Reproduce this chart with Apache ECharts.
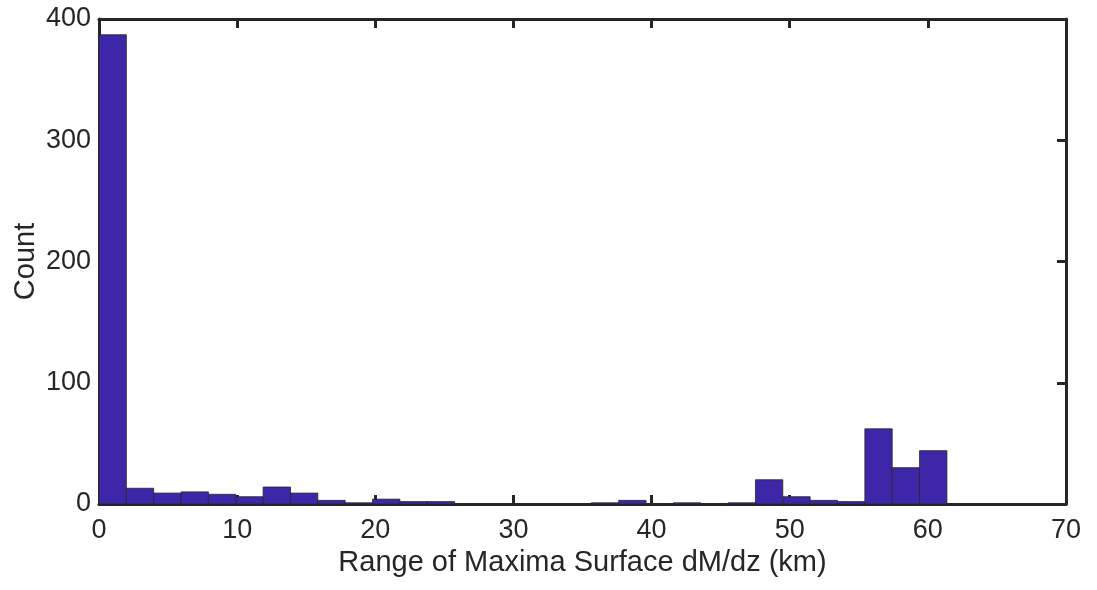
<!DOCTYPE html>
<html><head><meta charset="utf-8">
<script src="https://cdn.jsdelivr.net/npm/echarts@6/dist/echarts.min.js"></script>
<style>html,body{margin:0;padding:0;background:#fff}#c{width:1097px;height:590px}</style>
</head><body><div id="c"></div>
<script>
// Histogram bin edges (km) and counts per bin
const binEdges = [0, 1.98, 3.96, 5.94, 7.92, 9.9, 11.88, 13.86, 15.84, 17.82, 19.8, 21.78, 23.76, 25.74, 27.72, 29.7, 31.68, 33.66, 35.64, 37.62, 39.6, 41.58, 43.56, 45.54, 47.52, 49.5, 51.48, 53.46, 55.44, 57.42, 59.4, 61.38];
const counts = [387, 13, 9, 10, 8, 6, 14, 9, 3, 1, 4, 2, 2, 0, 0, 0, 0, 0, 1, 3, 0, 1, 0, 1, 20, 6, 3, 2, 62, 30, 44];
const xTicks = [0, 10, 20, 30, 40, 50, 60, 70];
const yTicks = [0, 100, 200, 300, 400];
const xLabel = 'Range of Maxima Surface dM/dz (km)';
const yLabel = 'Count';

const data = counts.map((c, i) => [binEdges[i], binEdges[i + 1], c]);
const font = 'Liberation Sans, Arial, Helvetica, sans-serif';
const axisCol = '#262626';

const chart = echarts.init(document.getElementById('c'), null, {renderer: 'canvas'});
const baseX = {
  type: 'value', min: xTicks[0], max: xTicks[xTicks.length - 1], interval: 10,
  splitLine: {show: false},
  axisLine: {show: true, onZero: false, lineStyle: {color: axisCol, width: 3}},
  axisTick: {show: true, inside: true, length: 9, lineStyle: {color: axisCol, width: 3}}
};
const baseY = {
  type: 'value', min: yTicks[0], max: yTicks[yTicks.length - 1], interval: 100,
  splitLine: {show: false},
  axisLine: {show: true, onZero: false, lineStyle: {color: axisCol, width: 3}},
  axisTick: {show: true, inside: true, length: 9, lineStyle: {color: axisCol, width: 3}}
};
chart.setOption({
  animation: false,
  grid: {left: 99, top: 19, right: 31, bottom: 86, containLabel: false, outerBoundsMode: 'none'},
  xAxis: [
    Object.assign({}, baseX, {
      position: 'bottom',
      name: xLabel, nameLocation: 'middle', nameGap: 44, nameMoveOverlap: false,
      nameTextStyle: {fontFamily: font, fontSize: 29, color: axisCol},
      axisLabel: {fontFamily: font, fontSize: 27, color: axisCol, margin: 13}
    }),
    Object.assign({}, baseX, {position: 'top', axisLabel: {show: false}})
  ],
  yAxis: [
    Object.assign({}, baseY, {
      position: 'left',
      name: yLabel, nameLocation: 'middle', nameGap: 59, nameMoveOverlap: false,
      nameTextStyle: {fontFamily: font, fontSize: 29, color: axisCol},
      axisLabel: {fontFamily: font, fontSize: 27, color: axisCol, margin: 8}
    }),
    Object.assign({}, baseY, {position: 'right', axisLabel: {show: false}})
  ],
  series: [{
    type: 'custom',
    xAxisIndex: 0, yAxisIndex: 0,
    data: data,
    renderItem: function (params, api) {
      const h = api.value(2);
      if (!h) return null;
      const p0 = api.coord([api.value(0), 0]);
      const p1 = api.coord([api.value(1), h]);
      return {
        type: 'rect',
        shape: {x: p0[0], y: p1[1], width: p1[0] - p0[0], height: p0[1] - p1[1]},
        style: {fill: '#3e26a8', stroke: '#262626', lineWidth: 0.8}
      };
    },
    encode: {x: [0, 1], y: 2}
  }]
});
</script></body></html>
